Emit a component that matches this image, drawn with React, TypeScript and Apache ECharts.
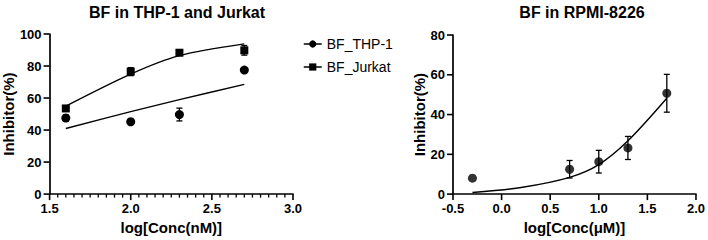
import React, { useEffect, useRef } from "react";
import * as echarts from "echarts";

// Left chart: BF in THP-1 and Jurkat
const leftX = [1.6, 2.0, 2.3, 2.7];
const thpY = [47.5, 45.2, 49.7, 77.5];
const thpErr = [2, 0.8, 4, 1];
const jurkatY = [53.5, 76.5, 88.3, 89.8];
const jurkatErr = [1.5, 2.5, 1.5, 3];
const thpFitX = [1.6, 2.0, 2.3, 2.7];
const thpFitY = [41, 51.5, 59, 68.5];
const jurkatFitX = [1.6, 2.0, 2.3, 2.7];
const jurkatFitY = [55, 75, 86.5, 93.8];

// Right chart: BF in RPMI-8226
const rightX = [-0.3, 0.7, 1.0, 1.3, 1.7];
const rpmiY = [8, 12.5, 16.3, 23.2, 50.7];
const rpmiErr = [0, 4.4, 5.7, 5.8, 9.5];
const rpmiFitX = [-0.3, 0.2, 0.7, 1.0, 1.3, 1.7];
const rpmiFitY = [0.8, 3.3, 8.4, 14.8, 26.8, 48.2];

const leftXTicks = { min: 1.5, max: 3.0, interval: 0.5 };
const leftYTicks = { min: 0, max: 100, interval: 20 };
const rightXTicks = { min: -0.5, max: 2.0, interval: 0.5 };
const rightYTicks = { min: 0, max: 80, interval: 20 };
const leftXMinorSplit = 10;

const FONT = "Liberation Sans, Arial, sans-serif";

function zip(xs: number[], ys: number[]) {
  return xs.map((x, i) => [x, ys[i]]);
}
function errData(xs: number[], ys: number[], es: number[]) {
  return xs.map((x, i) => [x, ys[i] - es[i], ys[i] + es[i]]);
}

// tick marks: [x, y, kind] kind 0 = x major, 1 = x minor, 2 = y major
function tickMarks(xt: any, yt: any, minorSplit: number) {
  const out: number[][] = [];
  const nx = Math.round((xt.max - xt.min) / xt.interval);
  for (let i = 0; i <= nx; i++) {
    const v = xt.min + i * xt.interval;
    out.push([v, yt.min, 0]);
    if (minorSplit > 1 && i < nx) {
      for (let j = 1; j < minorSplit; j++) {
        out.push([v + (j * xt.interval) / minorSplit, yt.min, 1]);
      }
    }
  }
  const ny = Math.round((yt.max - yt.min) / yt.interval);
  for (let i = 0; i <= ny; i++) {
    out.push([xt.min, yt.min + i * yt.interval, 2]);
  }
  return out;
}

const errorRender = (params: any, api: any) => {
  const x = api.value(0);
  const lo = api.value(1);
  const hi = api.value(2);
  if (hi - lo < 0.01) return null;
  const p1 = api.coord([x, lo]);
  const p2 = api.coord([x, hi]);
  const cap = 3;
  const style = { stroke: "#000", lineWidth: 1.3 };
  return {
    type: "group",
    children: [
      { type: "line", shape: { x1: p1[0], y1: p1[1], x2: p2[0], y2: p2[1] }, style },
      { type: "line", shape: { x1: p1[0] - cap, y1: p1[1], x2: p1[0] + cap, y2: p1[1] }, style },
      { type: "line", shape: { x1: p2[0] - cap, y1: p2[1], x2: p2[0] + cap, y2: p2[1] }, style },
    ],
  };
};

function axisCommon(margin: number) {
  return {
    axisLine: { show: true, onZero: false, lineStyle: { color: "#000", width: 1.7 } },
    axisTick: { show: false },
    minorTick: { show: false },
    axisLabel: { show: true, color: "#000", fontSize: 13, fontWeight: "bold", fontFamily: FONT, margin },
    splitLine: { show: false },
    nameTextStyle: { color: "#000", fontSize: 15, fontWeight: "bold", fontFamily: FONT },
  };
}

export default function App() {
  const ref = useRef<HTMLDivElement>(null);
  useEffect(() => {
    if (!ref.current) return;
    const chart = echarts.init(ref.current, null, { renderer: "svg" });
    const fmt1 = (v: number) => v.toFixed(1);
    const legendLine = { color: "#000", width: 1.5, opacity: 1 };
    const option: any = {
      animation: false,
      backgroundColor: "#fff",
      title: [
        {
          text: "BF in THP-1 and Jurkat",
          left: 172,
          top: -1,
          textAlign: "center",
          textStyle: { fontSize: 16, fontWeight: "bold", fontFamily: FONT, color: "#000" },
        },
        {
          text: "BF in RPMI-8226",
          left: 577,
          top: -1,
          textAlign: "center",
          textStyle: { fontSize: 16, fontWeight: "bold", fontFamily: FONT, color: "#000" },
        },
      ],
      legend: {
        orient: "vertical",
        left: 298,
        top: 32,
        itemWidth: 18,
        itemHeight: 9,
        itemGap: 9,
        textStyle: { fontSize: 14, fontFamily: FONT, color: "#000" },
        data: [
          { name: "BF_THP-1", itemStyle: { color: "#000" }, lineStyle: legendLine },
          { name: "BF_Jurkat", itemStyle: { color: "#000" }, lineStyle: legendLine },
        ],
      },
      grid: [
        { left: 49, top: 34, width: 244, height: 163 },
        { left: 453, top: 35, width: 246, height: 161 },
      ],
      xAxis: [
        {
          ...axisCommon(8),
          gridIndex: 0,
          type: "value",
          ...leftXTicks,
          axisLabel: { ...axisCommon(8).axisLabel, formatter: fmt1 },
          name: "log[Conc(nM)]",
          nameLocation: "middle",
          nameGap: 25,
        },
        {
          ...axisCommon(8),
          gridIndex: 1,
          type: "value",
          ...rightXTicks,
          axisLabel: { ...axisCommon(8).axisLabel, formatter: fmt1 },
          name: "log[Conc(μM)]",
          nameLocation: "middle",
          nameGap: 25,
        },
      ],
      yAxis: [
        {
          ...axisCommon(8),
          gridIndex: 0,
          type: "value",
          ...leftYTicks,
          name: "Inhibitor(%)",
          nameLocation: "middle",
          nameGap: 31,
        },
        {
          ...axisCommon(8),
          gridIndex: 1,
          type: "value",
          ...rightYTicks,
          name: "Inhibitor(%)",
          nameLocation: "middle",
          nameGap: 26,
        },
      ],
      series: [
        {
          name: "thp-fit",
          type: "line",
          xAxisIndex: 0,
          yAxisIndex: 0,
          data: zip(thpFitX, thpFitY),
          smooth: 0.3,
          showSymbol: false,
          silent: true,
          lineStyle: { color: "#000", width: 1.4 },
        },
        {
          name: "jurkat-fit",
          type: "line",
          xAxisIndex: 0,
          yAxisIndex: 0,
          data: zip(jurkatFitX, jurkatFitY),
          smooth: 0.3,
          showSymbol: false,
          silent: true,
          lineStyle: { color: "#000", width: 1.4 },
        },
        {
          name: "thp-err",
          type: "custom",
          xAxisIndex: 0,
          yAxisIndex: 0,
          renderItem: errorRender,
          encode: { x: 0, y: [1, 2] },
          data: errData(leftX, thpY, thpErr),
          silent: true,
        },
        {
          name: "jurkat-err",
          type: "custom",
          xAxisIndex: 0,
          yAxisIndex: 0,
          renderItem: errorRender,
          encode: { x: 0, y: [1, 2] },
          data: errData(leftX, jurkatY, jurkatErr),
          silent: true,
        },
        {
          name: "BF_THP-1",
          type: "line",
          xAxisIndex: 0,
          yAxisIndex: 0,
          data: zip(leftX, thpY),
          symbol: "circle",
          symbolSize: 9,
          showSymbol: true,
          itemStyle: { color: "#000" },
          lineStyle: { opacity: 0, color: "#000", width: 1.5 },
        },
        {
          name: "BF_Jurkat",
          type: "line",
          xAxisIndex: 0,
          yAxisIndex: 0,
          data: zip(leftX, jurkatY),
          symbol: "rect",
          symbolSize: 8,
          showSymbol: true,
          itemStyle: { color: "#000" },
          lineStyle: { opacity: 0, color: "#000", width: 1.5 },
        },
        {
          name: "rpmi-fit",
          type: "line",
          xAxisIndex: 1,
          yAxisIndex: 1,
          data: zip(rpmiFitX, rpmiFitY),
          smooth: 0.3,
          showSymbol: false,
          silent: true,
          lineStyle: { color: "#000", width: 1.4 },
        },
        {
          name: "rpmi-err",
          type: "custom",
          xAxisIndex: 1,
          yAxisIndex: 1,
          renderItem: errorRender,
          encode: { x: 0, y: [1, 2] },
          data: errData(rightX, rpmiY, rpmiErr),
          silent: true,
        },
        {
          name: "BF_RPMI-8226",
          type: "scatter",
          xAxisIndex: 1,
          yAxisIndex: 1,
          data: zip(rightX, rpmiY),
          symbol: "circle",
          symbolSize: 9,
          itemStyle: { color: "#000" },
        },
      ],
    };
    chart.setOption(option);

    // Tick marks placed through the chart's own scales (convertToPixel)
    const tickGraphics: any[] = [];
    const addTicks = (gridIndex: number, marks: number[][]) => {
      marks.forEach((m) => {
        const p = chart.convertToPixel({ gridIndex } as any, [m[0], m[1]]) as number[];
        if (!p) return;
        const kind = m[2];
        const style = { stroke: "#000", lineWidth: kind === 1 ? 1.3 : 1.6 };
        if (kind === 2) {
          tickGraphics.push({ type: "line", silent: true, z: 10, shape: { x1: p[0] - 6, y1: p[1], x2: p[0], y2: p[1] }, style });
        } else {
          const len = kind === 1 ? 3.5 : 6;
          tickGraphics.push({ type: "line", silent: true, z: 10, shape: { x1: p[0], y1: p[1], x2: p[0], y2: p[1] + len }, style });
        }
      });
    };
    addTicks(0, tickMarks(leftXTicks, leftYTicks, leftXMinorSplit));
    addTicks(1, tickMarks(rightXTicks, rightYTicks, 1));
    chart.setOption({ graphic: { elements: tickGraphics } });

    return () => chart.dispose();
  }, []);
  return (
    <div
      ref={ref}
      style={{ position: "fixed", left: 0, top: 0, width: 708, height: 240, background: "#fff" }}
    />
  );
}
